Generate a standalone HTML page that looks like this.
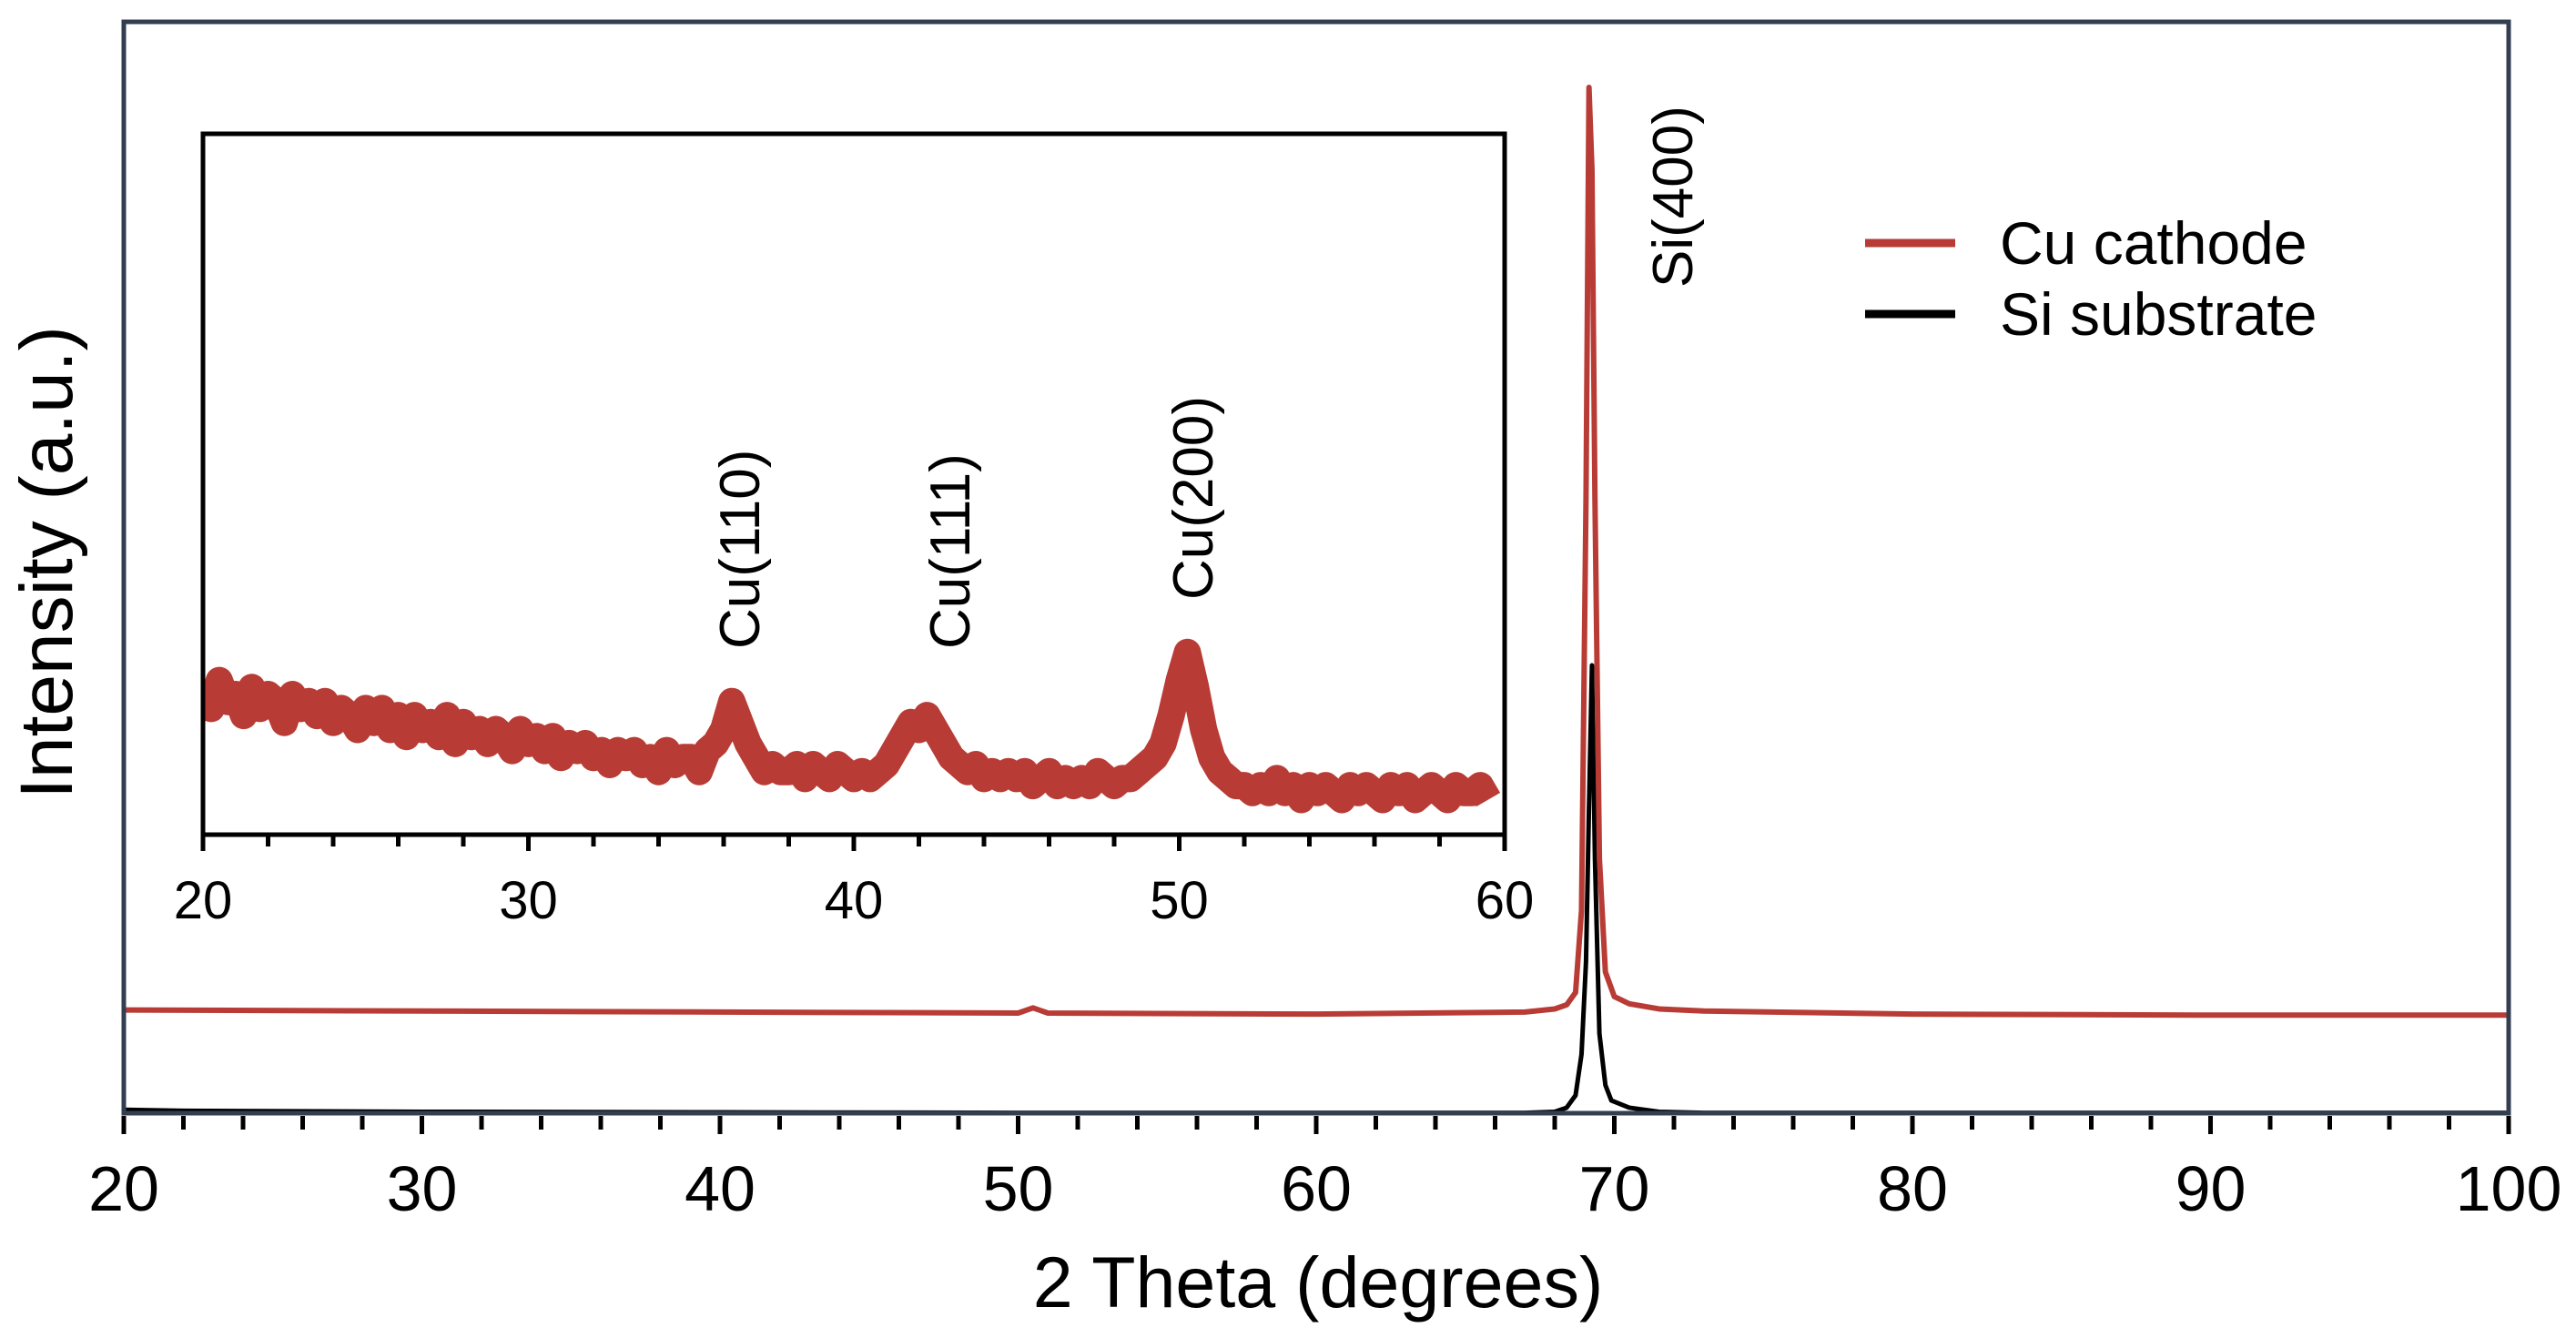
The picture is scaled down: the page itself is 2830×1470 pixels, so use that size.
<!DOCTYPE html>
<html><head><meta charset="utf-8"><style>
html,body{margin:0;padding:0;background:#fff;}
svg{display:block;font-family:"Liberation Sans",Arial,sans-serif;}
</style></head><body>
<svg id="chart" width="2830" height="1470" viewBox="0 0 2830 1470" xmlns="http://www.w3.org/2000/svg">
<rect x="0" y="0" width="2830" height="1470" fill="#fff"/>
<g id="main-marks"></g>
<rect x="136" y="24" width="2620" height="1199" fill="none" stroke="#333f50" stroke-width="5"/>
<g id="main-ticks"></g>
<rect x="223" y="147" width="1430" height="770" fill="#fff" stroke="#000" stroke-width="5"/>
<svg x="223" y="147" width="1430" height="770" viewBox="223 147 1430 770" overflow="hidden"><g id="inset-marks"></g></svg>
<rect x="223" y="147" width="1430" height="770" fill="none" stroke="#000" stroke-width="5"/>
<g id="inset-ticks"></g>
<text x="1448" y="1436" font-size="79" text-anchor="middle">2 Theta (degrees)</text>
<text transform="translate(79,618) rotate(-90)" font-size="82" text-anchor="middle">Intensity (a.u.)</text>
<text transform="translate(1859,316) rotate(-90)" font-size="62">Si(400)</text>
<text transform="translate(834,713) rotate(-90)" font-size="62">Cu(110)</text>
<text transform="translate(1065,713) rotate(-90)" font-size="62">Cu(111)</text>
<text transform="translate(1332,659) rotate(-90)" font-size="62">Cu(200)</text>
<g>
<line x1="2049" y1="267" x2="2148" y2="267" stroke="#b83c35" stroke-width="9"/>
<text x="2197" y="290" font-size="66">Cu cathode</text>
<line x1="2049" y1="345" x2="2148" y2="345" stroke="#000" stroke-width="9"/>
<text x="2197" y="368" font-size="66">Si substrate</text>
</g>
</svg>
<script>
// Main chart data
const mainRedX = [20,30,40,50,50.5,51,60,67,68,68.4,68.7,68.9,69.05,69.15,69.25,69.35,69.5,69.7,70,70.5,71.5,73,80,90,100];
const mainRedY = [10.3,10.2,10.1,10.0,10.5,10.0,9.9,10.1,10.4,10.8,12,20,60,100,92,60,25,14,11.6,10.9,10.4,10.2,9.9,9.8,9.8];
const mainBlackX = [20,22,30,40,50,60,67,68,68.4,68.7,68.9,69.05,69.15,69.25,69.35,69.5,69.7,69.9,70.5,71.5,73,80,100];
const mainBlackY = [0.6,0.5,0.4,0.35,0.3,0.3,0.3,0.4,0.8,2,6,15,30,43.8,25,8,3,1.5,0.8,0.4,0.3,0.3,0.3];
const mainTicks = [20,30,40,50,60,70,80,90,100];
// Inset data: 2θ from 20 to 60 step 0.25
const insetStart = 20, insetStep = 0.25;
const insetY = [
21,18,22,19,20,17,21,18,20,19,16,20,18,19,17,19,16,18,17,15,18,
16,18,15,17,14,17,15,16,14,17,13,16,14,15,13,15,14,12,15,
13,14,12,14,11,13,12,13,11,12,10,12,11,12,10,11,9,12,10,
11,11,9,12,13,15,19,16,13,11,9,10,
9,9,10,8,10,9,8,10,9,8,9,8,
9,10,12,14,16,15,17,15,13,11,10,9,10,8,9,8,
9,8,9,7,8,9,7,8,7,8,7,9,
8,7,8,8,9,10,11,13,17,22,26,21,15,11,9,8,
7,7,6,7,6,8,6,7,5,7,6,7,6,5,7,6,7,6,5,7,6,7,5,6,7,6,5,7,6,6,7,5];
const insetTicks = [20,30,40,50,60];

const NS = "http://www.w3.org/2000/svg";
const mx = v => 136 + (v - 20) * (2620 / 80);
const my = v => 1226 - v * 11.3;
const ix = v => 223 + (v - 20) * (1430 / 40);
const iy = v => 917 - v * 7.7;

function mk(tag, attrs, parent){
  const e = document.createElementNS(NS, tag);
  for (const k in attrs) e.setAttribute(k, attrs[k]);
  parent.appendChild(e);
  return e;
}
const mm = document.getElementById('main-marks');
const mt = document.getElementById('main-ticks');
const im = document.getElementById('inset-marks');
const it = document.getElementById('inset-ticks');

let p = mk('polyline', {points: mainBlackX.map((x,i)=>mx(x)+','+my(mainBlackY[i])).join(' '), fill:'none', stroke:'#000', 'stroke-width':5, 'stroke-linejoin':'round'}, mm);


p = mk('polyline', {points: mainRedX.map((x,i)=>mx(x)+','+my(mainRedY[i])).join(' '), fill:'none', stroke:'#b83c35', 'stroke-width':6, 'stroke-linejoin':'round'}, mm);



for (let v = 20; v <= 100; v += 2) {
  const major = (v % 10 === 0);
  const l = mk('line', {x1:mx(v), x2:mx(v), y1:1226, y2: major?1246:1241, stroke:'#000', 'stroke-width':5}, mt);
  
  
}
mainTicks.forEach(v => {
  const t = mk('text', {x:mx(v), y:1330, 'font-size':70, 'text-anchor':'middle'}, mt);
  t.textContent = v;
  
  
});

p = mk('polyline', {points: insetY.map((v,i)=>ix(insetStart+i*insetStep)+','+iy(v)).join(' '), fill:'none', stroke:'#b83c35', 'stroke-width':30, 'stroke-linejoin':'round', 'stroke-linecap':'butt'}, im);



for (let v = 20; v <= 60; v += 2) {
  const major = (v % 10 === 0);
  const l = mk('line', {x1:ix(v), x2:ix(v), y1:917, y2: major?935:930, stroke:'#000', 'stroke-width':5}, it);
  
  
}
insetTicks.forEach(v => {
  const t = mk('text', {x:ix(v), y:1009, 'font-size':58, 'text-anchor':'middle'}, it);
  t.textContent = v;
  
  
});
</script>
</body></html>
